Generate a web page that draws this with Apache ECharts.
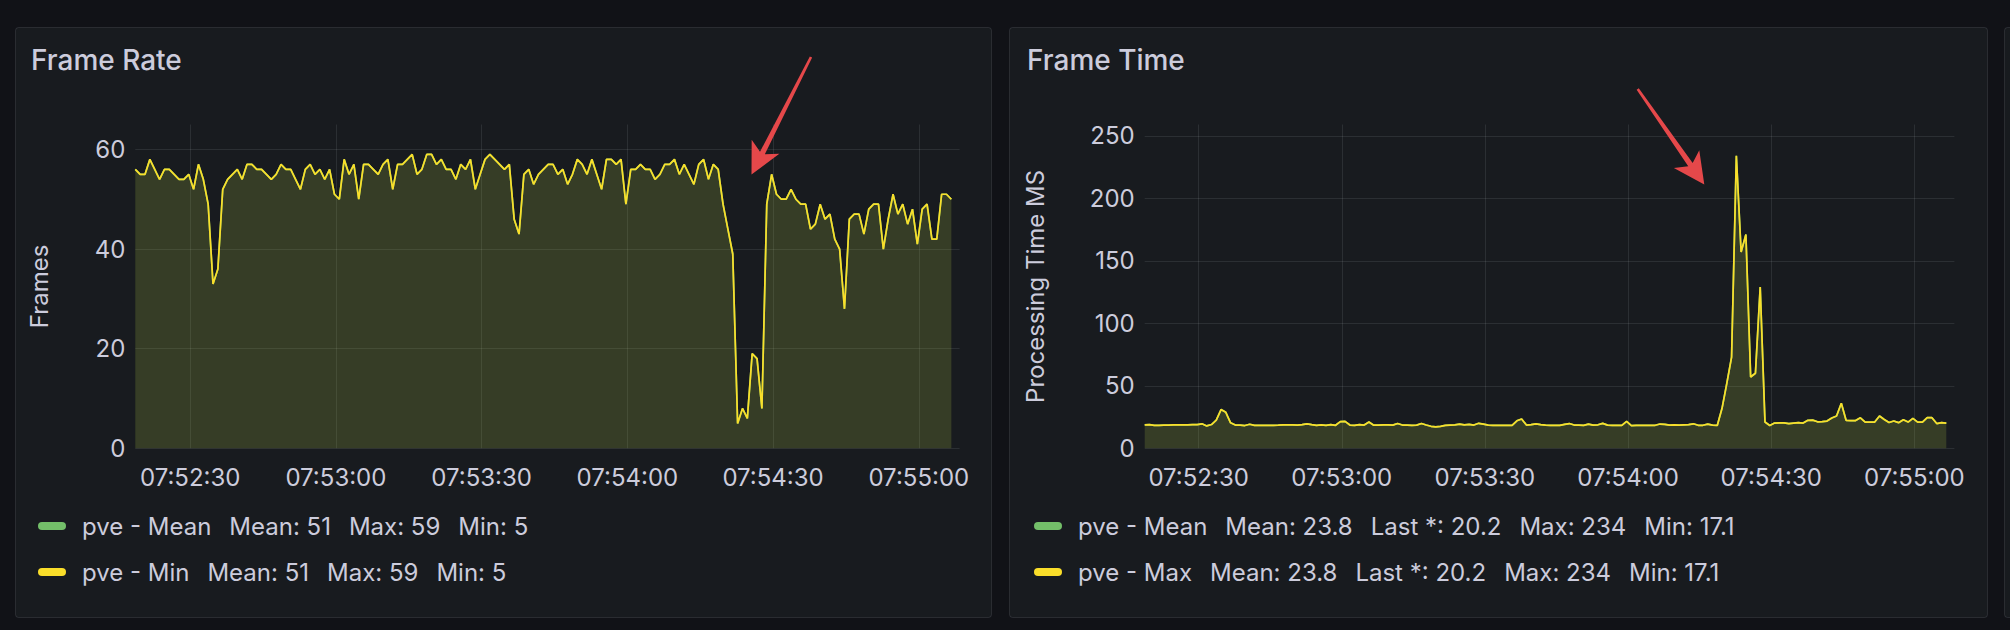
<!DOCTYPE html>
<html>
<head>
<meta charset="utf-8">
<script src="https://cdn.jsdelivr.net/npm/echarts@6/dist/echarts.min.js"></script>
<style>
html,body{margin:0;padding:0;background:#111217;}
#chart{width:2010px;height:630px;}
</style>
</head>
<body>
<div id="chart"></div>
<script>
// ---------- data (time in seconds of the day) ----------
const startSecondOfDay = 7 * 3600 + 52 * 60 + 18.7;
const axisStartSecond = 7 * 3600 + 52 * 60 + 18.7;
const axisEndSecond = 7 * 3600 + 55 * 60 + 8.4;
const sampleStepSeconds = 1;
const xTickStepSeconds = 30;

const frameRateValues = [56,55,55,58,56,54,56,56,55,54,54,55,52,57,54,49,33,36,52,54,55,56,54,57,57,56,56,55,54,55,57,56,56,54,52,56,57,55,56,54,56,51,50,58,55,57,50,57,57,56,55,57,58,52,57,57,58,
59,
55,56,59,59,57,58,56,56,54,57,56,58,52,55,58,59,58,57,56,57,46,43,55,56,53,55,56,57,57,55,56,53,55,58,57,55,58,55,52,58,58,57,58,49,56,56,57,56,56,54,55,57,57,58,55,57,
55,53,57,58,54,57,56,49,44,39,5,8,6,19,18,8,49,55,51,50,50,52,50,49,49,44,45,49,46,47,42,40,28,46,47,47,43,48,49,49,40,46,51,47,49,45,48,41,48,49,42,42,51,51,50];

const frameTimeValues = [18.7,18.9,18.4,18.4,18.6,18.6,18.8,18.8,18.8,18.8,18.9,19.0,
19.6,17.9,19.0,22.5,31.0,28.8,20.4,18.6,18.6,18.2,19.2,18.3,
18.3,18.3,18.4,18.4,18.5,18.8,18.8,18.7,18.5,
19.0,19.6,18.9,18.3,18.8,18.4,18.9,18.4,
21.3,21.5,18.6,18.3,19.0,18.6,21.0,18.5,18.5,18.8,18.7,18.5,19.8,18.6,18.5,
18.3,18.5,19.8,18.6,17.6,17.1,17.6,18.3,18.6,18.8,19.3,18.8,19.2,18.6,20.0,19.3,18.6,
18.4,18.4,18.4,18.4,18.4,
22.0,23.5,18.6,18.9,19.6,19.0,18.5,18.3,18.3,18.4,19.2,19.8,18.6,18.5,18.3,19.3,18.5,18.8,19.9,18.5,18.4,18.4,18.4,21.5,18.2,
18.4,18.4,18.4,18.4,18.4,19.4,19.2,18.5,
18.8,18.5,18.7,18.9,19.6,18.4,18.4,19.3,18.5,18.3,
32,52,73,234,157,171,57,60,129,21,18.2,
20.2,20.4,20.3,19.7,20.1,20.5,20.2,22.4,22.5,21.2,21.4,21.8,24.3,25.8,36.0,22.4,22.2,22.2,24.4,21.0,21.0,21.0,25.8,23.0,20.6,21.8,20.5,22.8,21.0,24.0,21.0,21.0,24.5,24.5,19.8,20.5,20.2];

const panelTitles = ['Frame Rate', 'Frame Time'];
const yAxisNames = ['Frames', 'Processing Time MS'];
const frameRateSeriesNames = ['pve - Mean', 'pve - Min'];
const frameTimeSeriesNames = ['pve - Mean', 'pve - Max'];
const frameRateStats = ['Mean: 51', 'Max: 59', 'Min: 5'];
const frameTimeStats = ['Mean: 23.8', 'Last *: 20.2', 'Max: 234', 'Min: 17.1'];

// ---------- styles ----------
const FONT = 'Inter, "Noto Sans", sans-serif';
const TEXT = '#ccccdc';
const GRID = 'rgba(240,250,255,0.09)';
const GREEN = '#73bf69';
const YELLOW = '#fade2a';
const RED = '#e5484a';
const FS = 24;

function toPairs(values) {
  return values.map((v, i) => [startSecondOfDay + i * sampleStepSeconds, v]);
}
function pad2(n) { return (n < 10 ? '0' : '') + n; }
function timeLabel(sec) {
  const s = Math.round(sec);
  return pad2(Math.floor(s / 3600)) + ':' + pad2(Math.floor((s % 3600) / 60)) + ':' + pad2(s % 60);
}

function arrowPolygon(tail, tip, headLen, headHalf, tailHalf, neckHalf) {
  const dx = tip[0] - tail[0], dy = tip[1] - tail[1];
  const L = Math.hypot(dx, dy);
  const ux = dx / L, uy = dy / L, nx = -uy, ny = ux;
  const base = [tip[0] - ux * headLen, tip[1] - uy * headLen];
  const neck = [tip[0] - ux * headLen * 0.78, tip[1] - uy * headLen * 0.78];
  return [
    [tail[0] + nx * tailHalf, tail[1] + ny * tailHalf],
    [neck[0] + nx * neckHalf, neck[1] + ny * neckHalf],
    [base[0] + nx * headHalf, base[1] + ny * headHalf],
    tip,
    [base[0] - nx * headHalf, base[1] - ny * headHalf],
    [neck[0] - nx * neckHalf, neck[1] - ny * neckHalf],
    [tail[0] - nx * tailHalf, tail[1] - ny * tailHalf]
  ];
}

function xAxisCfg(gridIndex) {
  return {
    type: 'value', gridIndex: gridIndex,
    min: axisStartSecond, max: axisEndSecond,
    splitNumber: 6, minInterval: xTickStepSeconds, maxInterval: xTickStepSeconds,
    axisLine: { show: false }, axisTick: { show: false },
    splitLine: { show: true, showMinLine: false, showMaxLine: false, lineStyle: { color: GRID, width: 1 } },
    axisLabel: {
      color: TEXT, fontSize: FS, fontFamily: FONT, margin: 15, lineHeight: 28,
      formatter: function (v) {
        const r = Math.abs(v / xTickStepSeconds - Math.round(v / xTickStepSeconds));
        return r < 1e-6 ? timeLabel(v) : '';
      }
    }
  };
}

function yAxisCfg(gridIndex, max, interval, name, nameGap) {
  return {
    type: 'value', gridIndex: gridIndex, min: 0, max: max, interval: interval,
    name: name, nameLocation: 'middle', nameGap: nameGap,
    nameTextStyle: { color: TEXT, fontSize: FS, fontFamily: FONT, lineHeight: 26 },
    axisLine: { show: false }, axisTick: { show: false },
    splitLine: { show: true, showMaxLine: false, lineStyle: { color: GRID, width: 1 } },
    axisLabel: { color: TEXT, fontSize: FS, fontFamily: FONT, margin: 10, showMaxLabel: false }
  };
}

function lineSeries(name, color, fillAlpha, xi, values, z) {
  const rgb = color === GREEN ? '115,191,105' : '250,222,42';
  return {
    type: 'line', name: name, xAxisIndex: xi, yAxisIndex: xi,
    data: toPairs(values), showSymbol: false, symbol: 'none', z: z,
    lineStyle: { color: color, width: 1.7 },
    itemStyle: { color: color },
    areaStyle: { color: 'rgba(' + rgb + ',' + fillAlpha + ')', opacity: 1 },
    emphasis: { disabled: true }
  };
}

const PILL = 'path://M4,0 L24,0 A4,4 0 0 1 24,8 L4,8 A4,4 0 0 1 4,0 Z';
function legendCfg(name, stats, left, top) {
  let s = '{a|' + name + '}';
  stats.forEach(t => { s += '{b|' + t + '}'; });
  return {
    data: [name], left: left, top: top, orient: 'horizontal', padding: 0,
    icon: PILL, itemWidth: 28, itemHeight: 8, selectedMode: false,
    formatter: function () { return s; },
    textStyle: {
      color: TEXT, fontSize: FS, fontFamily: FONT, lineHeight: 28,
      rich: {
        a: { color: TEXT, fontSize: FS, fontFamily: FONT, lineHeight: 28, padding: [0, 0, 0, 11] },
        b: { color: TEXT, fontSize: FS, fontFamily: FONT, lineHeight: 28, padding: [0, 0, 0, 18] }
      }
    }
  };
}

const chart = echarts.init(document.getElementById('chart'), null, { renderer: 'svg', width: 2010, height: 630 });

const option = {
  backgroundColor: '#111217',
  animation: false,
  title: [
    { text: panelTitles[0], left: 31, top: 46, padding: 0, textStyle: { color: TEXT, fontSize: 28, fontWeight: 500, fontFamily: FONT } },
    { text: panelTitles[1], left: 1027, top: 46, padding: 0, textStyle: { color: TEXT, fontSize: 28, fontWeight: 500, fontFamily: FONT } }
  ],
  grid: [
    { left: 135.3, top: 124.5, width: 824.3, height: 323.8 },
    { left: 1144.7, top: 124.5, width: 809.7, height: 323.8 }
  ],
  xAxis: [xAxisCfg(0), xAxisCfg(1)],
  yAxis: [
    yAxisCfg(0, 65, 20, yAxisNames[0], 83),
    yAxisCfg(1, 259, 50, yAxisNames[1], 96)
  ],
  legend: [
    legendCfg(frameRateSeriesNames[0], frameRateStats, 38, 512),
    legendCfg(frameRateSeriesNames[1], frameRateStats, 38, 558),
    legendCfg(frameTimeSeriesNames[0], frameTimeStats, 1034, 512),
    legendCfg(frameTimeSeriesNames[1], frameTimeStats, 1034, 558)
  ],
  series: [
    lineSeries(frameRateSeriesNames[0], GREEN, 0.1, 0, frameRateValues, 2),
    lineSeries(frameRateSeriesNames[1], YELLOW, 0.1, 0, frameRateValues, 3),
    lineSeries(frameTimeSeriesNames[0], GREEN, 0.1, 1, frameTimeValues, 2),
    lineSeries(frameTimeSeriesNames[1], YELLOW, 0.1, 1, frameTimeValues, 3)
  ],
  graphic: [
    { type: 'rect', z: -100, silent: true, shape: { x: 15.5, y: 27.5, width: 976, height: 590, r: 3 }, style: { fill: '#181b1f', stroke: 'rgba(204,204,220,0.12)', lineWidth: 1 } },
    { type: 'rect', z: -100, silent: true, shape: { x: 1009.5, y: 27.5, width: 978, height: 590, r: 3 }, style: { fill: '#181b1f', stroke: 'rgba(204,204,220,0.12)', lineWidth: 1 } },
    { type: 'rect', z: -100, silent: true, shape: { x: 2004.5, y: 27.5, width: 100, height: 590, r: 3 }, style: { fill: '#181b1f', stroke: 'rgba(204,204,220,0.12)', lineWidth: 1 } },
    { type: 'polygon', z: 100, silent: true, shape: { points: arrowPolygon([811, 57], [751.5, 174.5], 31, 15.5, 1.3, 2.7) }, style: { fill: RED } },
    { type: 'polygon', z: 100, silent: true, shape: { points: arrowPolygon([1637.7, 89], [1704.3, 184.5], 31, 15.5, 1.3, 2.7) }, style: { fill: RED } }
  ]
};
chart.setOption(option);
</script>
</body>
</html>
